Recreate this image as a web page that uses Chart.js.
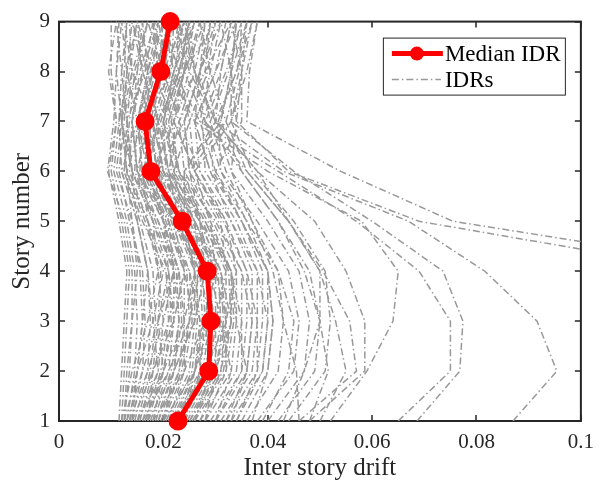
<!DOCTYPE html>
<html>
<head>
<meta charset="utf-8">
<script src="https://cdn.jsdelivr.net/npm/chart.js@4.4.1/dist/chart.umd.min.js"></script>
<style>
  html, body { margin: 0; padding: 0; background: #fff; }
  canvas { display: block; }
</style>
</head>
<body>
<canvas id="idrChart" width="603" height="481"></canvas>
<script>
// --- Data ---
const stories = [1, 2, 3, 4, 5, 6, 7, 8, 9];
const xTickValues = [0, 0.02, 0.04, 0.06, 0.08, 0.1];
const medianIdr = [0.0228, 0.0287, 0.0291, 0.0284, 0.0236, 0.0176, 0.0165, 0.0195, 0.0213];

// one row per record, drift in thousandths, story 1 -> 9
const idrRecords = [
    [87, 95.4, 91.6, 81.6, 67, 43, 30, 26, 24],
    [120, 150, 150, 136, 75.5, 54, 36, 36.5, 38],
    [110, 130, 135, 124.5, 69, 44, 34, 35, 37],
    [68.6, 76.8, 77.4, 73.6, 60, 45, 33, 33, 36],
    [65, 75, 75, 69, 57, 42, 27, 22, 20],
    [52, 59, 64, 65, 58, 40, 26, 21, 19],
    [46, 57, 55.7, 50.6, 44, 36, 28, 32, 35],
    [48, 58.6, 58.6, 55, 49, 38, 30, 25, 22],
    [36, 42, 43, 42, 36, 30, 27, 29, 31],
    [38, 45, 46, 44, 38, 31, 28, 26, 25],
    [40, 47, 48, 46, 40, 33, 30, 31, 33],
    [42, 49, 50, 50, 44, 36, 32, 29, 27],
    [44, 51, 52, 51, 45, 37, 33, 35, 36],
    [46, 45.5, 43, 41, 37, 32, 29, 27, 28],
    [48, 51.6, 50, 47, 42, 35, 31, 33, 34],
    [50, 55, 53, 50, 44, 38, 30, 28, 29],
    [39, 44, 45, 42, 37, 33, 34, 33, 31],
    [37, 40, 41, 40, 35, 30, 35, 35, 33],
    [43, 47, 50, 48, 42, 35, 28, 24, 23],
    [34, 39, 40, 38, 33, 29, 26, 30, 34],
    [11.5, 12, 12.5, 13, 11.5, 9.5, 11, 10, 10],
    [12, 12.5, 13, 13.5, 12, 10, 11, 9.5, 11],
    [12.5, 13.5, 14, 14, 12.5, 9.3, 10.5, 11, 12],
    [13, 14.5, 15, 14.5, 13, 10.5, 11.5, 12, 11],
    [13.5, 15, 16, 15.5, 14, 11, 12, 12.5, 13],
    [14, 16, 16.5, 16, 13.5, 11.5, 12.5, 13, 14],
    [14.5, 17, 17.5, 17, 15, 12, 11.5, 13.5, 15],
    [15, 17.5, 18.5, 18, 15.5, 12.5, 13, 14, 13.5],
    [15.5, 18, 19, 19.5, 16.5, 13, 12, 15, 16],
    [16, 19, 20, 19, 17, 13.5, 14, 16, 15],
    [16.5, 19.5, 21, 20.5, 16, 12.5, 13.5, 14.5, 17],
    [17, 20, 21.5, 21, 18, 14, 13, 16.5, 18],
    [17.5, 21, 22, 22, 18.5, 14.5, 15, 17, 16],
    [18, 21.5, 23, 22.5, 19, 15, 14, 15.5, 18.5],
    [18.5, 22, 23.5, 23, 20, 15.5, 16, 18, 19],
    [19, 23, 24, 24, 20.5, 16, 15, 17.5, 20],
    [19.5, 23.5, 25, 24.5, 21, 16.5, 17, 19, 18],
    [20, 24, 25.5, 25, 21.5, 17, 16, 18.5, 21],
    [20.5, 25, 26, 26, 22, 17.5, 17.5, 20, 22],
    [21, 25.5, 26.5, 26.5, 22.5, 18, 16.5, 19, 20],
    [21.5, 26, 27.5, 27, 23, 18.5, 18, 21, 23],
    [22, 27, 28, 27.5, 23.5, 19, 17, 20, 21.5],
    [22.5, 27.5, 29, 28.5, 24.5, 19.5, 19, 22, 24],
    [23, 28, 29.5, 29, 25, 20, 18.5, 21.5, 22],
    [23.5, 29, 30, 30, 25.5, 20.5, 20, 23, 25],
    [24, 29.5, 31, 30.5, 26, 21, 19.5, 22.5, 23],
    [24.5, 30, 31.5, 31, 27, 21.5, 21, 24, 26],
    [25, 31, 32, 32, 27.5, 22, 20.5, 23.5, 24.5],
    [25.5, 31.5, 33, 32.5, 28, 22.5, 22, 25, 27],
    [26, 32, 33.5, 33, 28.5, 23, 21.5, 24, 25],
    [27, 33, 34, 34, 29.5, 24, 23, 26, 28],
    [28, 34, 35, 35, 30.5, 25, 24, 27, 29],
    [29, 35, 36, 36, 31.5, 26, 25, 28.5, 30],
    [30, 36, 37, 37, 33, 27, 26, 30, 32],
    [31, 37, 38, 38, 34, 28, 27.5, 31, 33],
    [32, 38, 39, 39, 35, 29.5, 29, 32.5, 35],
    [33, 39, 40, 40, 36, 31, 30.5, 34, 36],
    [12, 14, 17, 19, 18, 15, 14, 16, 19],
    [13, 16, 19, 21, 20, 17, 15, 13, 12],
    [14, 18, 22, 24, 22, 18, 16, 17, 14],
    [15, 20, 24, 26, 24, 20, 18, 14, 12.5],
    [16, 21, 25, 27, 26, 22, 20, 22, 26],
    [17, 22, 26, 28, 27, 23, 21, 24, 28],
    [13.5, 17, 20, 22, 21, 19, 20, 23, 25],
    [18, 24, 28, 30, 29, 25, 24, 27, 30],
    [20, 26, 30, 32, 31, 26, 22, 18, 15],
    [22, 28, 32, 34, 32, 27, 23, 20, 17],
    [14, 15, 16, 17, 15, 12, 15, 18, 22],
    [12.5, 13, 14, 15, 14, 13, 16, 20, 24],
    [16.5, 20, 22, 21, 17, 13, 12, 11, 11.5],
    [19, 22, 23, 22, 18, 14, 13, 12, 13],
    [24, 27, 27, 25, 20, 15, 14, 15, 17],
    [26, 30, 30, 28, 22, 16, 15, 17, 19],
    [28, 32, 32, 30, 25, 19, 17, 19, 21],
    [30, 35, 35, 33, 27, 20, 18, 21, 24],
    [32, 36, 37, 35, 30, 23, 20, 22, 25],
    [34, 38, 38, 36, 32, 26, 22, 24, 27],
    [35, 40, 41, 40, 35, 29, 26, 27, 29],
    [21, 24, 24, 23, 20, 17, 19, 24, 30],
    [23, 26, 27, 26, 23, 21, 23, 28, 33],
    [25, 30, 32, 31, 27, 24, 30, 34, 37],
    [27, 31, 33, 33, 29, 26, 33, 36, 38],
    [22, 26, 28, 29, 27, 25, 32, 34.5, 35],
    [20, 23, 25, 26, 24, 24, 31, 33, 34],
    [15, 19, 18, 20, 17, 16, 19, 17, 20],
    [20, 22, 26, 24, 21, 15, 17, 21, 18],
    [26, 29, 28, 30, 26, 20, 16, 18, 22],
    [18, 20, 19, 22, 20, 18, 22, 26, 23],
    [30, 33, 31, 29, 24, 22, 25, 23, 20],
    [24, 26, 29, 27, 22, 19, 24, 27, 31],
    [12.5, 15, 18, 17, 15, 14, 12, 14, 17],
    [33, 36, 34, 33, 28, 21, 19, 23, 26],
    [17, 18, 21, 23, 19, 14, 12, 13, 15],
    [28, 30, 33, 31, 26, 21, 19, 16, 14]
];

const serif = "'Liberation Serif', 'Times New Roman', serif";
const axisColor = '#262626';

// box round the plot with inward ticks on all four sides
const axesBox = {
    id: 'axesBox',
    beforeDatasetsDraw(chart) {
        const { ctx, chartArea: a, scales: { x, y } } = chart;
        ctx.save();
        ctx.strokeStyle = axisColor;
        ctx.lineWidth = 2;
        ctx.strokeRect(a.left, a.top, a.right - a.left, a.bottom - a.top);
        ctx.lineWidth = 1.5;
        ctx.beginPath();
        x.ticks.forEach(t => {
            const px = Math.round(x.getPixelForValue(t.value));
            ctx.moveTo(px, a.bottom); ctx.lineTo(px, a.bottom - 6);
            ctx.moveTo(px, a.top); ctx.lineTo(px, a.top + 6);
        });
        y.ticks.forEach(t => {
            const py = Math.round(y.getPixelForValue(t.value));
            ctx.moveTo(a.left, py); ctx.lineTo(a.left + 6, py);
            ctx.moveTo(a.right, py); ctx.lineTo(a.right - 6, py);
        });
        ctx.stroke();
        ctx.restore();
    }
};

// legend drawn inside the top right corner of the plot
const insetLegend = {
    id: 'insetLegend',
    afterDatasetsDraw(chart) {
        const { ctx, chartArea: a } = chart;
        const [median, idr] = chart.data.datasets;
        const bx = a.right - 198, by = a.top + 16, bw = 182, bh = 57;
        ctx.save();
        ctx.fillStyle = '#fff';
        ctx.fillRect(bx, by, bw, bh);
        ctx.strokeStyle = axisColor;
        ctx.lineWidth = 1;
        ctx.strokeRect(bx + 0.5, by + 0.5, bw, bh);

        const row1 = by + 16, row2 = by + 42;
        ctx.strokeStyle = median.borderColor;
        ctx.lineWidth = median.borderWidth;
        ctx.beginPath();
        ctx.moveTo(bx + 9, row1); ctx.lineTo(bx + 60, row1);
        ctx.stroke();
        ctx.fillStyle = median.pointBackgroundColor;
        ctx.beginPath();
        ctx.arc(bx + 34, row1, median.pointRadius, 0, Math.PI * 2);
        ctx.fill();

        ctx.strokeStyle = idr.borderColor;
        ctx.lineWidth = idr.borderWidth;
        ctx.setLineDash(idr.borderDash);
        ctx.beginPath();
        ctx.moveTo(bx + 9, row2); ctx.lineTo(bx + 58, row2);
        ctx.stroke();
        ctx.setLineDash([]);

        ctx.fillStyle = '#000';
        ctx.font = '23px ' + serif;
        ctx.textBaseline = 'middle';
        ctx.fillText(median.label, bx + 62, row1 + 1);
        ctx.fillText(idr.label, bx + 62, row2 + 1);
        ctx.restore();
    }
};

const medianSet = {
    label: 'Median IDR',
    data: medianIdr.map((v, i) => ({ x: v, y: stories[i] })),
    borderColor: '#ff0000',
    backgroundColor: '#ff0000',
    pointBackgroundColor: '#ff0000',
    pointBorderColor: '#ff0000',
    borderWidth: 5,
    pointRadius: 7,
    clip: false,
    order: 0
};

const idrSets = idrRecords.map((rec, r) => ({
    label: r === 0 ? 'IDRs' : 'IDRs ' + (r + 1),
    data: rec.map((v, i) => ({ x: v / 1000, y: stories[i] })),
    borderColor: '#999999',
    borderWidth: 1.5,
    borderDash: [7, 3, 1.5, 3],
    pointRadius: 0,
    order: 1
}));

new Chart(document.getElementById('idrChart'), {
    type: 'line',
    data: { datasets: [medianSet, ...idrSets] },
    options: {
        responsive: false,
        animation: false,
        devicePixelRatio: 1,
        events: [],
        layout: { padding: { top: 15, right: 22, left: 0, bottom: 0 } },
        elements: { line: { tension: 0 } },
        plugins: { legend: { display: false }, tooltip: { enabled: false } },
        scales: {
            x: {
                type: 'linear',
                min: 0,
                max: 0.1,
                afterBuildTicks: s => { s.ticks = xTickValues.map(v => ({ value: v })); },
                afterFit: s => { s.height = 60; },
                grid: { display: false, drawTicks: false },
                border: { display: false },
                ticks: {
                    color: axisColor,
                    padding: 9,
                    maxRotation: 0,
                    font: { family: serif, size: 21 },
                    callback: v => String(v)
                },
                title: {
                    display: true,
                    text: 'Inter story drift',
                    color: axisColor,
                    font: { family: serif, size: 25, lineHeight: 1 },
                    padding: { top: 0, bottom: 0 }
                }
            },
            y: {
                type: 'linear',
                min: 1,
                max: 9,
                afterBuildTicks: s => { s.ticks = stories.map(v => ({ value: v })); },
                afterFit: s => { s.width = 59; },
                grid: { display: false, drawTicks: false },
                border: { display: false },
                ticks: {
                    color: axisColor,
                    padding: 9,
                    font: { family: serif, size: 21 }
                },
                title: {
                    display: true,
                    text: 'Story number',
                    color: axisColor,
                    font: { family: serif, size: 25, lineHeight: 1 },
                    padding: { top: 10, bottom: 0 }
                }
            }
        }
    },
    plugins: [axesBox, insetLegend]
});
</script>
</body>
</html>
